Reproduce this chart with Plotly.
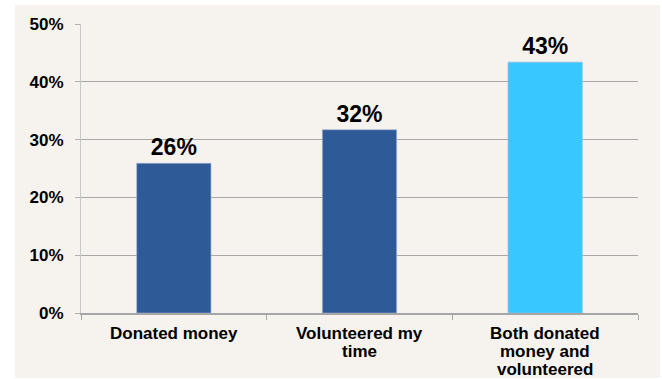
import plotly.graph_objects as go

# Survey responses: share of respondents in each giving group
categories = ["Donated money", "Volunteered my time", "Both donated money and volunteered"]
category_lines = [["Donated money"], ["Volunteered my", "time"], ["Both donated", "money and", "volunteered"]]
shares = [25.9, 31.7, 43.4]
bar_colors = ["#2e5a98", "#2e5a98", "#38c8ff"]
y_ticks = [0, 10, 20, 30, 40, 50]
y_tick_text = [f"{v}%" for v in y_ticks]

FONT = "Liberation Sans, Arial, sans-serif"
BG = "#f6f2ee"

W, H = 662, 379
L, R, T, B = 81, 24, 24, 66
pw, ph = W - L - R, H - T - B
LINE_STEP = 18  # tight line spacing for the wrapped category labels

fig = go.Figure(
    go.Bar(
        x=categories,
        y=shares,
        width=0.4,
        marker=dict(color=bar_colors, line=dict(color="#9db4d6", width=0.6)),
        texttemplate="<b>%{y:.0f}%</b>",
        textposition="outside",
        textfont=dict(family=FONT, size=23, color="#000000"),
        cliponaxis=False,
    )
)

# category labels, one annotation per line so the wrap stays compact
for cat, lines in zip(categories, category_lines):
    for i, line in enumerate(lines):
        fig.add_annotation(
            x=cat, xref="x", y=0, yref="paper",
            yanchor="top", xanchor="center",
            yshift=-9 - i * LINE_STEP,
            text=f"<b>{line}</b>", showarrow=False,
            font=dict(family=FONT, size=17, color="#000000"),
        )

# light panel behind the whole chart, inset from the page edges
fig.add_shape(
    type="rect", xref="paper", yref="paper", layer="below",
    x0=(15 - L) / pw, x1=(660 - L) / pw,
    y0=-(378 - (H - B)) / ph, y1=((H - B) - 5) / ph,
    fillcolor=BG, line=dict(width=0),
)

fig.update_layout(
    width=W, height=H,
    margin=dict(l=L, r=R, t=T, b=B, autoexpand=False),
    paper_bgcolor="#ffffff",
    plot_bgcolor=BG,
    showlegend=False,
    bargap=0.6,
    font=dict(family=FONT, color="#000000"),
)

fig.update_xaxes(
    type="category",
    automargin=False,
    tickson="boundaries",
    ticks="outside", ticklen=5, tickcolor="#a6a6a6",
    showline=True, linecolor="#a6a6a6", linewidth=1.5,
    showgrid=False,
    showticklabels=False,
)

fig.update_yaxes(
    automargin=False,
    range=[0, 50],
    tickvals=y_ticks, ticktext=[f"<b>{t}</b>" for t in y_tick_text],
    ticks="outside", ticklen=5, tickcolor="#b0b0b0",
    showline=True, linecolor="#c8c8c8", linewidth=1,
    showgrid=True, gridcolor="#a8a8a8", gridwidth=1,
    zeroline=False,
    ticklabelstandoff=8,
    tickfont=dict(family=FONT, size=17, color="#000000"),
)

fig.write_html("out.html")
